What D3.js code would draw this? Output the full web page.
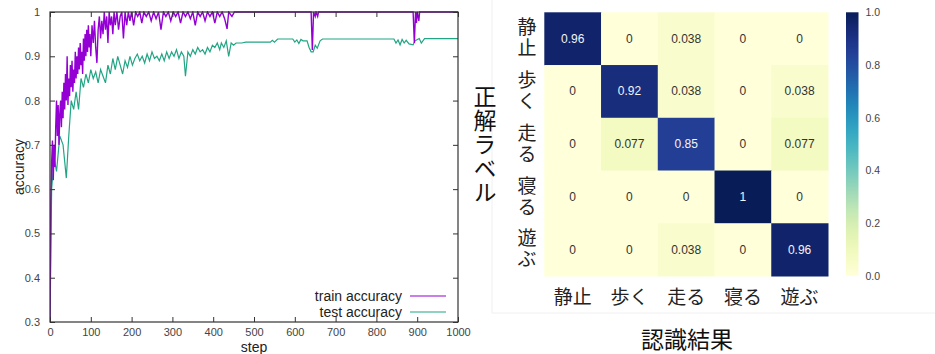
<!DOCTYPE html>
<html>
<head>
<meta charset="utf-8">
<script src="https://cdn.jsdelivr.net/npm/d3@7"></script>
<style>
  html, body { margin: 0; padding: 0; background: #fff; }
  svg { display: block; }
  text { font-family: "Liberation Sans", Arial, sans-serif; }
  .jp { font-family: "Noto Sans CJK JP", "Noto Sans", sans-serif; }
  .vert { writing-mode: vertical-rl; }
</style>
</head>
<body>
<svg id="chart" width="935" height="354"></svg>
<script>
// ---- learning curve data ----
const trainSteps = [0,2,4,6,8,10,12,14,16,18,20,22,24,26,28,30,32,34,36,38,40,42,44,46,48,50,52,54,56,58,60,62,64,66,68,70,72,74,76,78,80,82,84,86,88,90,92,94,96,98,100,103,106,109,112,115,118,121,124,127,130,133,136,139,142,145,148,151,154,157,160,164,168,172,176,180,184,188,192,196,200,205,210,215,220,225,230,236,242,248,254,260,266,272,278,284,290,296,302,308,314,320,326,332,338,344,350,356,362,368,374,380,386,392,398,404,410,416,422,428,434,438,446,452,640,643,646,650,652,656,658,890,893,896,898,900,904,906,1000];
const trainAcc = [0.30,0.57,0.66,0.71,0.62,0.70,0.65,0.74,0.80,0.72,0.79,0.70,0.77,0.80,0.74,0.82,0.76,0.84,0.78,0.86,0.80,0.90,0.79,0.85,0.81,0.88,0.83,0.89,0.82,0.87,0.84,0.91,0.85,0.90,0.86,0.92,0.87,0.93,0.88,0.91,0.86,0.94,0.89,0.95,0.90,0.96,0.91,0.97,0.92,0.95,0.90,0.97,0.93,0.98,0.92,0.885,0.96,0.99,0.94,0.98,0.95,1.0,0.96,0.99,0.93,1.0,0.97,0.99,0.95,1.0,0.97,1.0,0.96,0.99,1.0,0.94,1.0,0.97,1.0,0.98,1.0,0.97,1.0,0.99,1.0,0.975,1.0,0.99,1.0,0.98,1.0,0.985,1.0,0.96,1.0,0.99,1.0,0.98,1.0,0.99,1.0,0.975,1.0,0.99,1.0,0.985,1.0,0.97,1.0,0.99,1.0,0.98,1.0,0.99,1.0,0.975,1.0,0.99,1.0,0.985,0.962,1.0,0.99,1.0,1.0,0.914,1.0,0.99,1.0,0.99,1.0,1.0,0.93,1.0,0.975,1.0,0.98,1.0,1.0];

const testSteps = [0,4,10,16,24,32,40,46,52,58,64,70,76,82,88,94,100,106,112,118,124,130,136,142,148,154,160,166,172,178,184,190,196,202,208,214,220,226,232,238,244,250,256,262,268,274,280,286,292,298,304,310,316,322,328,332,338,344,350,356,362,368,374,380,386,392,398,404,410,416,420,426,432,438,444,450,456,470,480,540,545,550,558,595,600,605,610,615,620,630,635,640,645,650,655,662,668,843,848,853,858,863,868,873,880,890,895,905,910,918,1000];
const testAcc = [0.30,0.60,0.67,0.64,0.72,0.70,0.625,0.72,0.80,0.78,0.82,0.78,0.85,0.83,0.86,0.84,0.87,0.85,0.865,0.84,0.87,0.855,0.84,0.88,0.86,0.895,0.87,0.90,0.88,0.86,0.89,0.875,0.90,0.88,0.895,0.905,0.89,0.90,0.885,0.905,0.89,0.91,0.895,0.90,0.89,0.905,0.89,0.91,0.895,0.91,0.90,0.915,0.895,0.91,0.90,0.855,0.91,0.90,0.915,0.905,0.92,0.91,0.915,0.905,0.92,0.91,0.925,0.92,0.93,0.915,0.93,0.92,0.935,0.90,0.93,0.925,0.93,0.93,0.932,0.932,0.936,0.932,0.939,0.939,0.932,0.937,0.929,0.938,0.935,0.935,0.92,0.91,0.91,0.925,0.918,0.935,0.939,0.939,0.93,0.937,0.926,0.938,0.93,0.936,0.928,0.926,0.935,0.94,0.93,0.94,0.94];

const xTicks = [0,100,200,300,400,500,600,700,800,900,1000];
const yTicks = [0.3,0.4,0.5,0.6,0.7,0.8,0.9,1];
const seriesNames = ["train accuracy", "test accuracy"];
const seriesColors = ["#9400d3", "#22a585"];

// ---- confusion matrix data ----
const classes = ["静止", "歩く", "走る", "寝る", "遊ぶ"];
const matrix = [
  [0.96, 0, 0.038, 0, 0],
  [0, 0.92, 0.038, 0, 0.038],
  [0, 0.077, 0.85, 0, 0.077],
  [0, 0, 0, 1, 0],
  [0, 0, 0.038, 0, 0.96]
];
const colorbarTicks = [0.0, 0.2, 0.4, 0.6, 0.8, 1.0];
const yTitle = "正解ラベル";
const xTitle = "認識結果";

const svg = d3.select("#chart");

// ================= line chart =================
const L = { left: 50, top: 12, right: 458, bottom: 322 };
const x = d3.scaleLinear().domain([0, 1000]).range([L.left, L.right]);
const y = d3.scaleLinear().domain([0.3, 1]).range([L.bottom, L.top]);

svg.append("clipPath").attr("id", "plotClip")
  .append("rect").attr("x", L.left).attr("y", L.top - 1)
  .attr("width", L.right - L.left).attr("height", L.bottom - L.top + 1);

const line = d3.line().x(d => x(d[0])).y(d => y(d[1]));
const gLines = svg.append("g").attr("clip-path", "url(#plotClip)");

const testPts = testSteps.map((s, i) => [s, testAcc[i]]);
const trainPts = trainSteps.map((s, i) => [s, trainAcc[i]]);

gLines.append("path").datum(testPts).attr("d", line)
  .attr("fill", "none").attr("stroke", seriesColors[1]).attr("stroke-width", 1.2);
gLines.append("path").datum(trainPts).attr("d", line)
  .attr("fill", "none").attr("stroke", seriesColors[0]).attr("stroke-width", 1.4);

// axes with inward ticks, mirrored on top and right
const tickLen = 5;
const axisColor = "#333";
const xAxisB = svg.append("g").attr("transform", `translate(0,${L.bottom})`)
  .call(d3.axisBottom(x).tickValues(xTicks).tickSizeInner(-tickLen).tickSizeOuter(0).tickPadding(6)
    .tickFormat(d3.format("d")));
const xAxisT = svg.append("g").attr("transform", `translate(0,${L.top})`)
  .call(d3.axisTop(x).tickValues(xTicks).tickSizeInner(-tickLen).tickSizeOuter(0).tickFormat(""));
const yAxisL = svg.append("g").attr("transform", `translate(${L.left},0)`)
  .call(d3.axisLeft(y).tickValues(yTicks).tickSizeInner(-tickLen).tickSizeOuter(0).tickPadding(10)
    .tickFormat(d => d === 1 ? "1" : d3.format(".1f")(d)));
const yAxisR = svg.append("g").attr("transform", `translate(${L.right},0)`)
  .call(d3.axisRight(y).tickValues(yTicks).tickSizeInner(-tickLen).tickSizeOuter(0).tickFormat(""));

[xAxisB, xAxisT, yAxisL, yAxisR].forEach(g => {
  g.select(".domain").remove();
  g.selectAll("line").attr("stroke", axisColor);
  g.selectAll("text").attr("fill", "#444").style("font-size", "11px")
    .style("font-family", "'Liberation Sans', Arial, sans-serif");
});

svg.append("rect").attr("x", L.left).attr("y", L.top)
  .attr("width", L.right - L.left).attr("height", L.bottom - L.top)
  .attr("fill", "none").attr("stroke", axisColor).attr("stroke-width", 1.2);

svg.append("text").attr("transform", `translate(19,${(L.top + L.bottom) / 2}) rotate(-90)`)
  .attr("text-anchor", "middle").attr("dominant-baseline", "central")
  .style("font-size", "14px").attr("fill", "#222").text("accuracy");
svg.append("text").attr("x", (L.left + L.right) / 2).attr("y", 352)
  .attr("text-anchor", "middle").style("font-size", "14px").attr("fill", "#222").text("step");

// legend
seriesNames.forEach((name, i) => {
  const ly = 296 + i * 16;
  svg.append("text").attr("x", 402).attr("y", ly).attr("text-anchor", "end")
    .attr("dominant-baseline", "central").style("font-size", "14px").attr("fill", "#222").text(name);
  svg.append("line").attr("x1", 410).attr("x2", 446).attr("y1", ly).attr("y2", ly)
    .attr("stroke", seriesColors[i]).attr("stroke-width", 1.2);
});

// ================= confusion matrix =================
// faint panel edge around the heatmap figure
svg.append("line").attr("x1", 492).attr("x2", 492).attr("y1", 0).attr("y2", 313)
  .attr("stroke", "#f0f0f0");
svg.append("line").attr("x1", 492).attr("x2", 935).attr("y1", 313).attr("y2", 313)
  .attr("stroke", "#f0f0f0");

const H = { left: 544.3, top: 12.3, right: 828, bottom: 276 };
const hx = d3.scaleBand().domain(d3.range(classes.length)).range([H.left, H.right]);
const hy = d3.scaleBand().domain(d3.range(classes.length)).range([H.top, H.bottom]);
const color = d3.scaleSequential(d3.interpolateYlGnBu).domain([0, 1]);

const cells = matrix.flatMap((row, r) => row.map((v, c) => ({ r, c, v })));
const gCells = svg.append("g");
gCells.selectAll("rect").data(cells).join("rect")
  .attr("x", d => hx(d.c)).attr("y", d => hy(d.r))
  .attr("width", hx.bandwidth() + 0.5).attr("height", hy.bandwidth() + 0.5)
  .attr("fill", d => color(d.v));
gCells.selectAll("text").data(cells).join("text")
  .attr("x", d => hx(d.c) + hx.bandwidth() / 2)
  .attr("y", d => hy(d.r) + hy.bandwidth() / 2)
  .attr("text-anchor", "middle").attr("dominant-baseline", "central")
  .style("font-size", "12px")
  .attr("fill", d => d.v > 0.5 ? "#f4f4f4" : "#333")
  .text(d => d3.format("")(d.v));

// row labels, set vertically
classes.forEach((name, r) => {
  svg.append("text").attr("class", "jp vert")
    .attr("x", 527).attr("y", hy(r) + hy.bandwidth() / 2)
    .attr("text-anchor", "middle")
    .style("font-size", "19px").style("letter-spacing", "2px")
    .attr("fill", "#222").text(name);
});
// column labels
classes.forEach((name, c) => {
  svg.append("text").attr("class", "jp")
    .attr("x", hx(c) + hx.bandwidth() / 2).attr("y", 295)
    .attr("text-anchor", "middle").attr("dominant-baseline", "central")
    .style("font-size", "19px").attr("fill", "#222").text(name);
});

// axis titles
svg.append("text").attr("class", "jp vert")
  .attr("x", 485).attr("y", 145)
  .attr("text-anchor", "middle")
  .style("font-size", "23px").style("letter-spacing", "1px")
  .attr("fill", "#111").text(yTitle);
svg.append("text").attr("class", "jp")
  .attr("x", 687).attr("y", 338)
  .attr("text-anchor", "middle").attr("dominant-baseline", "central")
  .style("font-size", "23px").attr("fill", "#111").text(xTitle);

// colorbar
const cb = { x: 846, w: 12.5, top: 12.3, bottom: 276 };
const cbScale = d3.scaleLinear().domain([0, 1]).range([cb.bottom, cb.top]);
const grad = svg.append("defs").append("linearGradient")
  .attr("id", "cbGrad").attr("x1", 0).attr("y1", 1).attr("x2", 0).attr("y2", 0);
d3.range(0, 1.0001, 0.05).forEach(t => {
  grad.append("stop").attr("offset", t).attr("stop-color", color(t));
});
svg.append("rect").attr("x", cb.x).attr("y", cb.top)
  .attr("width", cb.w).attr("height", cb.bottom - cb.top).attr("fill", "url(#cbGrad)");
const cbAxis = svg.append("g").attr("transform", `translate(${cb.x + cb.w},0)`)
  .call(d3.axisRight(cbScale).tickValues(colorbarTicks).tickSize(0).tickPadding(7)
    .tickFormat(d3.format(".1f")));
cbAxis.select(".domain").remove();
cbAxis.selectAll("text").attr("fill", "#444").style("font-size", "10.5px")
  .style("font-family", "'Liberation Sans', Arial, sans-serif");
</script>
</body>
</html>
